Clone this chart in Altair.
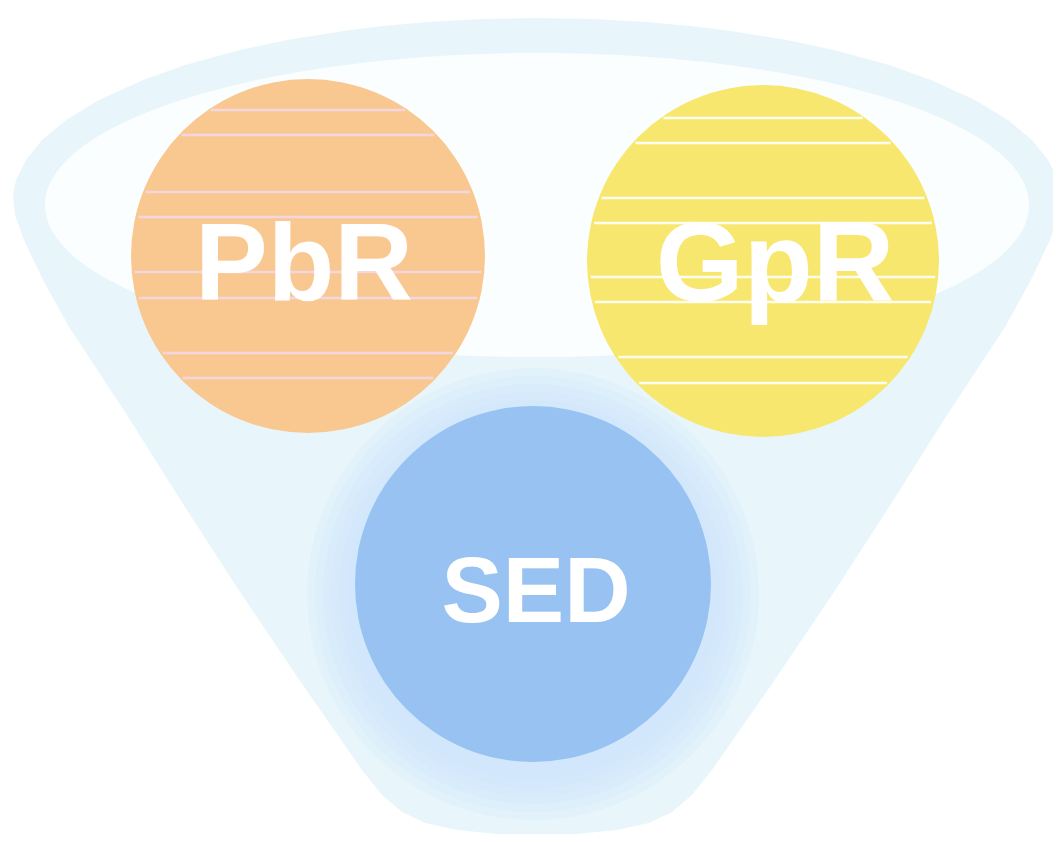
import math
import altair as alt
import pandas as pd

# ---- data (page pixel coordinates) ----
circle_names = ["PbR", "GpR", "SED"]
circle_cx = [308, 763, 533]
circle_cy = [256, 261, 584]
circle_r = [177, 176, 178]
circle_colors = ["#f9c891", "#f8e76f", "#98c2f1"]

label_x = [304, 775, 536]
label_y = [300, 301, 622]
label_size = [109, 113, 92]

pbr_stripes = [110, 135, 192, 217, 272, 298, 353, 378]
gpr_stripes = [118, 143, 198, 223, 277, 302, 357, 383]

funnel_y = [18, 19, 22, 26, 30, 40, 50, 65, 80, 100, 120, 140, 160, 180, 194,
            215, 240, 280, 327, 415, 504, 592, 681, 770, 795, 812, 823, 830, 834]
funnel_half = [0, 55, 109, 154, 187, 250, 297, 352, 394, 438, 471, 495, 511, 521, 524,
               522, 513, 494, 468, 410, 354, 297, 237, 175, 155, 135, 112, 80, 40]
funnel_center = 537

inner_center = (537, 205)

glow_steps = [48, 40, 32, 24, 16, 8]

# ---- tables ----
funnel = pd.DataFrame({
    "y": funnel_y,
    "xl": [funnel_center - h for h in funnel_half],
    "xr": [funnel_center + h for h in funnel_half],
})

circles = pd.DataFrame({
    "name": circle_names,
    "cx": circle_cx,
    "cy": circle_cy,
    "r": circle_r,
    "color": circle_colors,
})
# vega circle symbol: diameter = sqrt(size)
circles["area"] = (2 * circles["r"]) ** 2

glow = pd.DataFrame({
    "cx": [circle_cx[2]] * len(glow_steps),
    "cy": [circle_cy[2] + 10] * len(glow_steps),
    "area": [(2 * (circle_r[2] + g)) ** 2 for g in glow_steps],
})

rows = []
for stripes, idx, col in [(pbr_stripes, 0, "#f4d6e0"), (gpr_stripes, 1, "#fffdf0")]:
    cx, cy, r = circle_cx[idx], circle_cy[idx], circle_r[idx]
    for s in stripes:
        d = math.sqrt(max(r * r - (s - cy) ** 2, 0)) - 3
        rows.append({"y": s, "x1": cx - d, "x2": cx + d, "color": col})
stripes_df = pd.DataFrame(rows)

labels = pd.DataFrame({"text": circle_names, "x": label_x, "y": label_y, "size": label_size})

inner = pd.DataFrame({"x": [inner_center[0]], "y": [inner_center[1]]})

xs = alt.Scale(domain=[8, 1053], nice=False, zero=False)
ys = alt.Scale(domain=[8, 834], nice=False, zero=False, reverse=True)
noax = None

funnel_layer = alt.Chart(funnel).mark_area(
    orient="horizontal", color="#e8f6fb", interpolate="linear"
).encode(
    y=alt.Y("y:Q", scale=ys, axis=noax),
    x=alt.X("xl:Q", scale=xs, axis=noax),
    x2="xr:Q",
)

inner_layer = alt.Chart(inner).mark_point(
    shape="M -1 0 A 1 0.309 0 1 0 1 0 A 1 0.309 0 1 0 -1 0 Z",
    filled=True, opacity=1, color="#fbfeff", size=984 * 984,
).encode(
    x=alt.X("x:Q", scale=xs, axis=noax),
    y=alt.Y("y:Q", scale=ys, axis=noax),
)

glow_layer = alt.Chart(glow).mark_point(
    shape="circle", filled=True, color="#cfe5fa", opacity=0.22
).encode(
    x=alt.X("cx:Q", scale=xs, axis=noax),
    y=alt.Y("cy:Q", scale=ys, axis=noax),
    size=alt.Size("area:Q", scale=None),
)

circle_layer = alt.Chart(circles).mark_point(shape="circle", filled=True, opacity=1).encode(
    x=alt.X("cx:Q", scale=xs, axis=noax),
    y=alt.Y("cy:Q", scale=ys, axis=noax),
    size=alt.Size("area:Q", scale=None),
    color=alt.Color("color:N", scale=None),
)

stripe_layer = alt.Chart(stripes_df).mark_rule(strokeWidth=2.5).encode(
    x=alt.X("x1:Q", scale=xs, axis=noax),
    x2="x2:Q",
    y=alt.Y("y:Q", scale=ys, axis=noax),
    color=alt.Color("color:N", scale=None),
)

text_layer = alt.Chart(labels).mark_text(
    font="Liberation Sans", fontWeight="bold", color="#ffffff", baseline="alphabetic", align="center"
).encode(
    x=alt.X("x:Q", scale=xs, axis=noax),
    y=alt.Y("y:Q", scale=ys, axis=noax),
    text="text:N",
    size=alt.Size("size:Q", scale=None),
)

chart = alt.layer(
    funnel_layer, inner_layer, glow_layer, circle_layer, stripe_layer, text_layer
).properties(
    width=1045, height=826, padding=0, autosize=alt.AutoSizeParams(type="none"), background="#ffffff"
).configure_view(stroke=None)

chart.save("out.html", embed_options={"renderer": "svg", "actions": False})
